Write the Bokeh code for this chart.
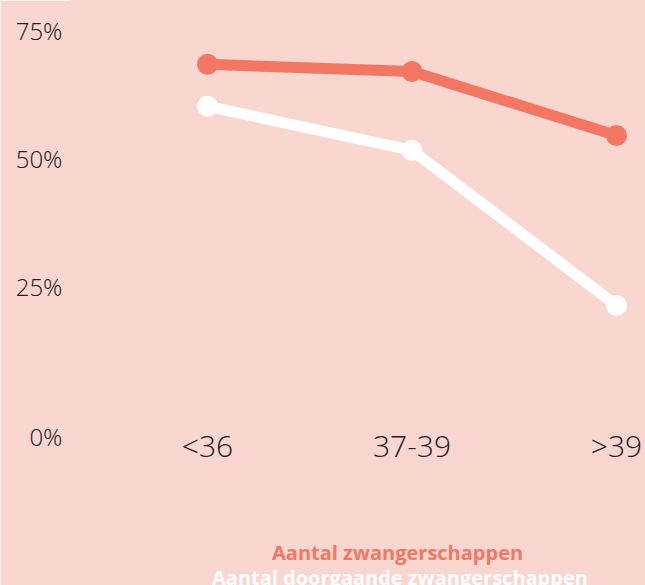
from bokeh.plotting import figure
from bokeh.models import Range1d, FixedTicker, Legend, LegendItem
from bokeh.embed import file_html
from bokeh.resources import INLINE

categories = ["<36", "37-39", ">39"]
zwangerschappen = [68.4, 67.0, 54.5]
doorgaande = [60.2, 51.6, 21.3]
y_ticks = [0, 25, 50, 75]
y_labels = ["\n0%", "25%", "50%", "75%"]
series_names = ["Aantal zwangerschappen", "Aantal doorgaande zwangerschappen"]

BG = "#f9d6d0"
SALMON = "#f47763"
WHITE = "#ffffff"
TXT = "#222222"
LIGHT_FONT = "Open Sans Light"

x = list(range(len(categories)))

p = figure(width=645, height=585, output_backend="svg", toolbar_location=None,
           x_range=Range1d(-0.67, 2.142), y_range=Range1d(-33.4, 80.86),
           min_border_left=70, min_border_right=0, min_border_top=0,
           min_border_bottom=0)
p.background_fill_color = BG
p.border_fill_color = BG
p.outline_line_color = BG
p.outline_line_width = 2
p.grid.visible = False

l1 = p.line(x, zwangerschappen, line_color=SALMON, line_width=11, line_join="round")
p.scatter(x, zwangerschappen, size=21, fill_color=SALMON, line_color=None)
l2 = p.line(x, doorgaande, line_color=WHITE, line_width=11, line_join="round")
p.scatter(x, doorgaande, size=21, fill_color=WHITE, line_color=None)

for ax in (p.xaxis[0], p.yaxis[0]):
    ax.axis_line_color = None
    ax.major_tick_line_color = None
    ax.minor_tick_line_color = None
    ax.major_tick_out = 0
    ax.major_tick_in = 0
    ax.major_label_text_font = LIGHT_FONT
    ax.major_label_text_color = TXT

p.xaxis.fixed_location = 0
p.xaxis.ticker = FixedTicker(ticks=x)
p.xaxis.major_label_overrides = {i: c for i, c in enumerate(categories)}
p.xaxis.major_label_text_font_size = "30px"
p.xaxis.major_label_standoff = 11

p.yaxis.ticker = FixedTicker(ticks=y_ticks)
p.yaxis.major_label_overrides = dict(zip(y_ticks, y_labels))
p.yaxis.major_label_text_font_size = "24px"
p.yaxis.major_label_text_line_height = 1.35
p.yaxis.major_label_standoff = 8

common = dict(glyph_width=0, glyph_height=20, label_standoff=0, padding=0, margin=0,
              background_fill_alpha=0, border_line_alpha=0, label_text_font="Open Sans",
              label_text_font_style="bold", label_text_font_size="20px")
lg1 = Legend(items=[LegendItem(label=series_names[0], renderers=[l1])],
             location=(202, 19), label_text_color=SALMON, **common)
lg2 = Legend(items=[LegendItem(label=series_names[1], renderers=[l2])],
             location=(142, -6), label_text_color=WHITE, **common)
p.add_layout(lg1)
p.add_layout(lg2)

open("out.html", "w").write(file_html(p, INLINE))
